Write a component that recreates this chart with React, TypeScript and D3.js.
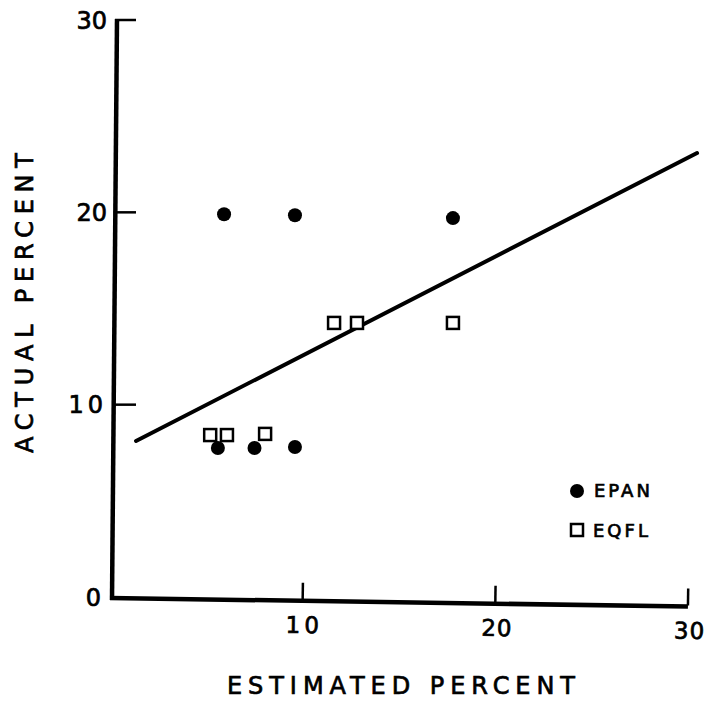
import React from "react";
import * as d3 from "d3";

const xTicks = [10, 20, 30];
const yTicks = [0, 10, 20, 30];

const epanX = [5.92, 9.6, 17.8, 5.6, 7.5, 9.6];
const epanY = [19.9, 19.85, 19.7, 7.75, 7.75, 7.8];

const eqflX = [5.2, 6.07, 8.05, 11.63, 12.82, 17.8];
const eqflY = [8.42, 8.42, 8.48, 14.25, 14.25, 14.25];

const fitX = [1.35, 30.47];
const fitIntercept = 7.42;
const fitSlope = 0.514;

const legendLabels = ["EPAN", "EQFL"];
const xTitle = "ESTIMATED PERCENT";
const yTitle = "ACTUAL PERCENT";

const W = 704;
const H = 705;

export default function App() {
  const x = d3.scaleLinear().domain([0, 30]).range([110, 688]);
  const y = d3.scaleLinear().domain([0, 30]).range([597, 20]);
  const font = "'DejaVu Sans', sans-serif";
  const axisX = x(0) + 5;

  const fitLine = d3
    .line<number>()
    .x((d) => x(d))
    .y((d) => y(fitIntercept + fitSlope * d))(fitX) as string;

  const sq = 12;
  const txt = { fill: "#000", stroke: "#000", strokeWidth: 0.7 };

  return (
    <svg
      width={W}
      height={H}
      style={{ position: "absolute", left: 0, top: 0, background: "#fff" }}
      fontFamily={font}
    >
      <rect x={0} y={0} width={W} height={H} fill="#fff" />
      {/* Y axis */}
      <line x1={axisX + 2} y1={y(30) - 1} x2={axisX - 3} y2={y(0) + 3} stroke="#000" strokeWidth={4.5} />
      {yTicks.map((t) => (
        <g key={"yt" + t}>
          {t > 0 && (
            <line x1={axisX} y1={y(t)} x2={axisX + 21} y2={y(t)} stroke="#000" strokeWidth={2.5} />
          )}
          <text
            x={t === 0 ? 101 : 107}
            y={y(t)}
            dy="0.36em"
            textAnchor="end"
            fontSize={24}
            letterSpacing={t === 10 ? 4 : 0}
            {...txt}
          >
            {t}
          </text>
        </g>
      ))}
      {/* X axis (slightly tilted like the original) */}
      <g transform={`rotate(0.85, ${axisX - 3}, ${y(0) + 1})`}>
        <line x1={axisX - 5} y1={y(0) + 1} x2={x(30)} y2={y(0) + 1} stroke="#000" strokeWidth={4.5} />
        {xTicks.map((t) => (
          <g key={"xt" + t}>
            <line x1={x(t)} y1={y(0)} x2={x(t)} y2={y(0) - 17} stroke="#000" strokeWidth={2.5} />
            <text
              x={x(t) + 2}
              y={y(0) + 25}
              dy="0.36em"
              textAnchor="middle"
              fontSize={23}
              letterSpacing={t === 10 ? 4 : 1}
              {...txt}
            >
              {t}
            </text>
          </g>
        ))}
      </g>
      {/* Fit line */}
      <path d={fitLine} fill="none" stroke="#000" strokeWidth={4} strokeLinecap="round" />
      {/* EQFL squares */}
      {eqflX.map((v, i) => (
        <rect
          key={"s" + i}
          x={x(v) - sq / 2}
          y={y(eqflY[i]) - sq / 2}
          width={sq}
          height={sq}
          fill="#fff"
          stroke="#000"
          strokeWidth={2.5}
        />
      ))}
      {/* EPAN circles */}
      {epanX.map((v, i) => (
        <circle key={"c" + i} cx={x(v)} cy={y(epanY[i])} r={7} fill="#000" />
      ))}
      {/* Legend */}
      <circle cx={577} cy={491} r={7} fill="#000" />
      <text x={594} y={491} dy="0.36em" fontSize={18} letterSpacing={3} {...txt}>
        {legendLabels[0]}
      </text>
      <rect x={571} y={524} width={12} height={12} fill="#fff" stroke="#000" strokeWidth={2.5} />
      <text x={593} y={531} dy="0.36em" fontSize={18} letterSpacing={3} {...txt}>
        {legendLabels[1]}
      </text>
      {/* Axis titles */}
      <text
        x={401}
        y={685}
        dy="0.36em"
        textAnchor="middle"
        fontSize={24}
        textLength={348}
        lengthAdjust="spacing"
        {...txt}
      >
        {xTitle}
      </text>
      <text
        transform={`translate(24, 303) rotate(-90)`}
        dy="0.36em"
        textAnchor="middle"
        fontSize={24}
        textLength={300}
        lengthAdjust="spacing"
        {...txt}
      >
        {yTitle}
      </text>
    </svg>
  );
}
